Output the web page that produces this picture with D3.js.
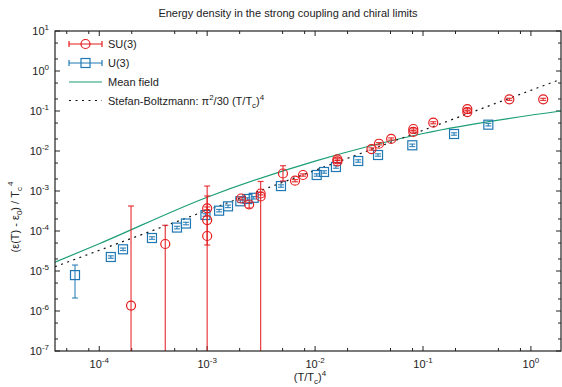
<!DOCTYPE html>
<html>
<head>
<meta charset="utf-8">
<script src="https://d3js.org/d3.v7.min.js"></script>
<style>
  body { margin: 0; background: #fff; }
  text { font-family: "Liberation Sans", Arial, sans-serif; fill: #222; }
</style>
</head>
<body>
<script>
// SU(3) points: x = (T/Tc)^4, y = energy density, lo/hi = error bar ends
const suX  = [1.97e-4, 4.09e-4, 1.0e-3, 1.0e-3, 1.0e-3, 2.06e-3, 2.45e-3, 3.13e-3, 3.13e-3, 5.04e-3, 6.52e-3, 7.73e-3, 1.61e-2, 1.61e-2, 3.33e-2, 3.91e-2, 5.07e-2, 8.13e-2, 8.13e-2, 0.1245, 0.2575, 0.2575, 0.631, 1.30];
const suY  = [1.37e-6, 4.73e-5, 3.69e-4, 1.88e-4, 7.5e-5, 6.49e-4, 4.6e-4, 8.66e-4, 7.29e-4, 2.74e-3, 1.81e-3, 2.51e-3, 6.2e-3, 5.5e-3, 1.12e-2, 1.52e-2, 2.0e-2, 3.55e-2, 2.99e-2, 5.1e-2, 0.112, 0.094, 0.196, 0.196];
const suLo = [1e-9, 1e-9, 3.4e-4, 4.47e-5, 1e-9, 6.0e-4, 3.75e-4, 8.0e-4, 1e-9, 1.78e-3, 1.7e-3, 2.35e-3, 5.8e-3, 5.1e-3, 1.05e-2, 1.42e-2, 1.87e-2, 3.32e-2, 2.8e-2, 4.8e-2, 0.105, 0.088, 0.184, 0.184];
const suHi = [4.22e-4, 1.39e-4, 4.0e-4, 7.5e-4, 1.33e-3, 7.0e-4, 5.2e-4, 9.3e-4, 1.73e-3, 4.29e-3, 1.93e-3, 2.68e-3, 6.6e-3, 5.9e-3, 1.2e-2, 1.62e-2, 2.13e-2, 3.78e-2, 3.18e-2, 5.4e-2, 0.119, 0.1, 0.208, 0.208];

// U(3) points
const u3X  = [5.96e-5, 1.28e-4, 1.66e-4, 3.08e-4, 5.25e-4, 6.36e-4, 9.64e-4, 1.29e-3, 1.56e-3, 2.03e-3, 2.36e-3, 2.70e-3, 4.83e-3, 1.035e-2, 1.21e-2, 1.56e-2, 2.51e-2, 3.83e-2, 7.96e-2, 0.194, 0.403];
const u3Y  = [7.9e-6, 2.24e-5, 3.49e-5, 6.68e-5, 1.22e-4, 1.54e-4, 2.51e-4, 3.22e-4, 4.14e-4, 5.53e-4, 6.31e-4, 6.76e-4, 1.33e-3, 2.51e-3, 2.99e-3, 3.98e-3, 5.62e-3, 7.94e-3, 1.39e-2, 2.66e-2, 4.55e-2];
const u3Lo = [2.11e-6, 2.08e-5, 3.25e-5, 6.2e-5, 1.13e-4, 1.43e-4, 2.33e-4, 3.0e-4, 3.85e-4, 5.15e-4, 5.87e-4, 6.3e-4, 1.24e-3, 2.34e-3, 2.78e-3, 3.7e-3, 5.23e-3, 7.4e-3, 1.29e-2, 2.48e-2, 4.23e-2];
const u3Hi = [1.41e-5, 2.4e-5, 3.75e-5, 7.2e-5, 1.31e-4, 1.65e-4, 2.7e-4, 3.46e-4, 4.45e-4, 5.95e-4, 6.78e-4, 7.27e-4, 1.43e-3, 2.7e-3, 3.21e-3, 4.28e-3, 6.04e-3, 8.5e-3, 1.49e-2, 2.86e-2, 4.89e-2];

// mean field curve
const mfX = [3.89e-5, 1e-4, 1e-3, 1e-2, 1e-1, 1.9];
const mfY = [1.66e-5, 4.8e-5, 7e-4, 5.6e-3, 2.74e-2, 0.1];

// Stefan-Boltzmann line endpoints
const sbX = [3.89e-5, 1.9];
const sbY = [1.28e-5, 0.625];

const xTicks = [1e-4, 1e-3, 1e-2, 1e-1, 1];
const yTicks = [1e-7, 1e-6, 1e-5, 1e-4, 1e-3, 1e-2, 1e-1, 1, 10];

const legendLabels = ["SU(3)", "U(3)", "Mean field", "Stefan-Boltzmann"];

const [width, height] = [562, 387];
const red = "#e41a1c", blue = "#1f78b4", green = "#1b9e77";

const x = d3.scaleLog().domain([3.89e-5, 1.9]).range([55, 561]);
const y = d3.scaleLog().domain([1e-7, 10]).range([351, 31]).clamp(true);

const svg = d3.select("body").append("svg")
    .attr("width", width).attr("height", height);

svg.append("defs").append("clipPath").attr("id", "clip")
  .append("rect").attr("x", 55).attr("y", 31).attr("width", 506).attr("height", 320);

// title
svg.append("text").attr("x", 288).attr("y", 17).attr("text-anchor", "middle")
    .style("font-size", "11px").text("Energy density in the strong coupling and chiral limits");

// ticks (inward, on all four sides)
const frame = svg.append("g").attr("stroke", "#222").attr("stroke-width", 1);
const log10 = Math.log10;
const xMinor = [];
const yMinor = [];
for (let e = -5; e <= 0; e++) {
  [2, 5, 8].forEach(m => { const v = m * Math.pow(10, e); if (v > 3.89e-5 && v < 1.9) xMinor.push(v); });
}
for (let e = -7; e <= 0; e++) {
  [2, 5].forEach(m => yMinor.push(m * Math.pow(10, e)));
}
const ax = frame.append("g");
function xt(v, len) {
  ax.append("line").attr("x1", x(v)).attr("x2", x(v)).attr("y1", 351).attr("y2", 351 - len);
  ax.append("line").attr("x1", x(v)).attr("x2", x(v)).attr("y1", 31).attr("y2", 31 + len);
}
function yt(v, len) {
  ax.append("line").attr("y1", y(v)).attr("y2", y(v)).attr("x1", 55).attr("x2", 55 + len);
  ax.append("line").attr("y1", y(v)).attr("y2", y(v)).attr("x1", 561).attr("x2", 561 - len);
}
xTicks.forEach(v => xt(v, 5));
xMinor.forEach(v => xt(v, 3));
yTicks.forEach(v => yt(v, 5));
yMinor.forEach(v => yt(v, 3));

// tick labels
function pow10(sel, v) {
  const e = Math.round(log10(v));
  sel.append("tspan").text("10");
  sel.append("tspan").attr("dy", -5).style("font-size", "8px").text(e);
}
xTicks.forEach(v => {
  const t = svg.append("text").attr("x", x(v)).attr("y", 368)
      .attr("text-anchor", "middle").style("font-size", "11px");
  pow10(t, v);
});
yTicks.forEach(v => {
  const t = svg.append("text").attr("x", 49).attr("y", y(v) + 4)
      .attr("text-anchor", "end").style("font-size", "11px");
  pow10(t, v);
});

// axis titles
const xl = svg.append("text").attr("x", 310).attr("y", 381).attr("text-anchor", "middle").style("font-size", "11px");
xl.append("tspan").text("(T/T");
xl.append("tspan").attr("dy", 3).style("font-size", "8px").text("c");
xl.append("tspan").attr("dy", -3).text(")");
xl.append("tspan").attr("dy", -5).style("font-size", "8px").text("4");

const yl = svg.append("text").attr("transform", "translate(19,217) rotate(-90)")
    .attr("text-anchor", "middle").style("font-size", "11px");
yl.append("tspan").text("(ε(T) - ε");
yl.append("tspan").attr("dy", 3).style("font-size", "8px").text("0");
yl.append("tspan").attr("dy", -3).text(") / T");
yl.append("tspan").attr("dy", 3).style("font-size", "8px").text("c");
yl.append("tspan").attr("dy", -9).attr("dx", 1).style("font-size", "8px").text("4");

const plot = svg.append("g").attr("clip-path", "url(#clip)");

// mean field
const mf = mfX.map((v, i) => [v, mfY[i]]);
plot.append("path").datum(mf)
    .attr("d", d3.line().x(d => x(d[0])).y(d => y(d[1])).curve(d3.curveMonotoneX))
    .attr("fill", "none").attr("stroke", green).attr("stroke-width", 1.2);

// Stefan-Boltzmann
plot.append("line")
    .attr("x1", x(sbX[0])).attr("y1", y(sbY[0])).attr("x2", x(sbX[1])).attr("y2", y(sbY[1]))
    .attr("stroke", "#111").attr("stroke-width", 1.2).attr("stroke-dasharray", "2,4.5");

function errBars(g, xs, ys, los, his, color) {
  xs.forEach((v, i) => {
    const cx = x(v), top = y(his[i]), bot = y(los[i]);
    g.append("line").attr("x1", cx).attr("x2", cx).attr("y1", top).attr("y2", bot)
        .attr("stroke", color).attr("stroke-width", 1.2).attr("stroke-opacity", 0.85);
    [top, bot].forEach(yy => {
      if (yy < 350) g.append("line").attr("x1", cx - 3).attr("x2", cx + 3).attr("y1", yy).attr("y2", yy)
          .attr("stroke", color).attr("stroke-width", 1.2).attr("stroke-opacity", 0.85);
    });
  });
}

const gU = plot.append("g");
errBars(gU, u3X, u3Y, u3Lo, u3Hi, blue);
gU.selectAll("rect.m").data(u3X).join("rect").attr("class", "m")
    .attr("x", (d, i) => x(d) - 4.5).attr("y", (d, i) => y(u3Y[i]) - 4.5)
    .attr("width", 9).attr("height", 9)
    .attr("fill", "none").attr("stroke", blue).attr("stroke-width", 1.2);

const gS = plot.append("g");
errBars(gS, suX, suY, suLo, suHi, red);
gS.selectAll("circle").data(suX).join("circle")
    .attr("cx", d => x(d)).attr("cy", (d, i) => y(suY[i])).attr("r", 4.5)
    .attr("fill", "none").attr("stroke", red).attr("stroke-width", 1.2);

// frame
svg.append("rect").attr("x", 55).attr("y", 31).attr("width", 506).attr("height", 320)
    .attr("fill", "none").attr("stroke", "#222").attr("stroke-width", 1.2);

// legend
const lg = svg.append("g");
const ly = [44, 63, 82, 100.5];
const lx0 = 69, lx1 = 102, lxm = 85.5;
[[red, 0], [blue, 1]].forEach(([c, i]) => {
  lg.append("line").attr("x1", lx0).attr("x2", lx1).attr("y1", ly[i]).attr("y2", ly[i]).attr("stroke", c).attr("stroke-width", 1.2);
  [lx0, lx1].forEach(xx => lg.append("line").attr("x1", xx).attr("x2", xx).attr("y1", ly[i] - 3).attr("y2", ly[i] + 3).attr("stroke", c).attr("stroke-width", 1.2));
});
lg.append("circle").attr("cx", lxm).attr("cy", ly[0]).attr("r", 4.5).attr("fill", "none").attr("stroke", red).attr("stroke-width", 1.2);
lg.append("rect").attr("x", lxm - 4.5).attr("y", ly[1] - 4.5).attr("width", 9).attr("height", 9).attr("fill", "none").attr("stroke", blue).attr("stroke-width", 1.2);
lg.append("line").attr("x1", lx0).attr("x2", lx1).attr("y1", ly[2]).attr("y2", ly[2]).attr("stroke", green).attr("stroke-width", 1.2);
lg.append("line").attr("x1", lx0).attr("x2", lx1).attr("y1", ly[3]).attr("y2", ly[3]).attr("stroke", "#111").attr("stroke-width", 1.2).attr("stroke-dasharray", "2,4.5");

legendLabels.slice(0, 3).forEach((s, i) => {
  lg.append("text").attr("x", 108).attr("y", ly[i] + 4).style("font-size", "11px").text(s);
});
const sbt = lg.append("text").attr("x", 108).attr("y", ly[3] + 4).style("font-size", "11px");
sbt.append("tspan").text(legendLabels[3] + ": π");
sbt.append("tspan").attr("dy", -5).style("font-size", "8px").text("2");
sbt.append("tspan").attr("dy", 5).text("/30 (T/T");
sbt.append("tspan").attr("dy", 3).style("font-size", "8px").text("c");
sbt.append("tspan").attr("dy", -3).text(")");
sbt.append("tspan").attr("dy", -5).style("font-size", "8px").text("4");
</script>
</body>
</html>
